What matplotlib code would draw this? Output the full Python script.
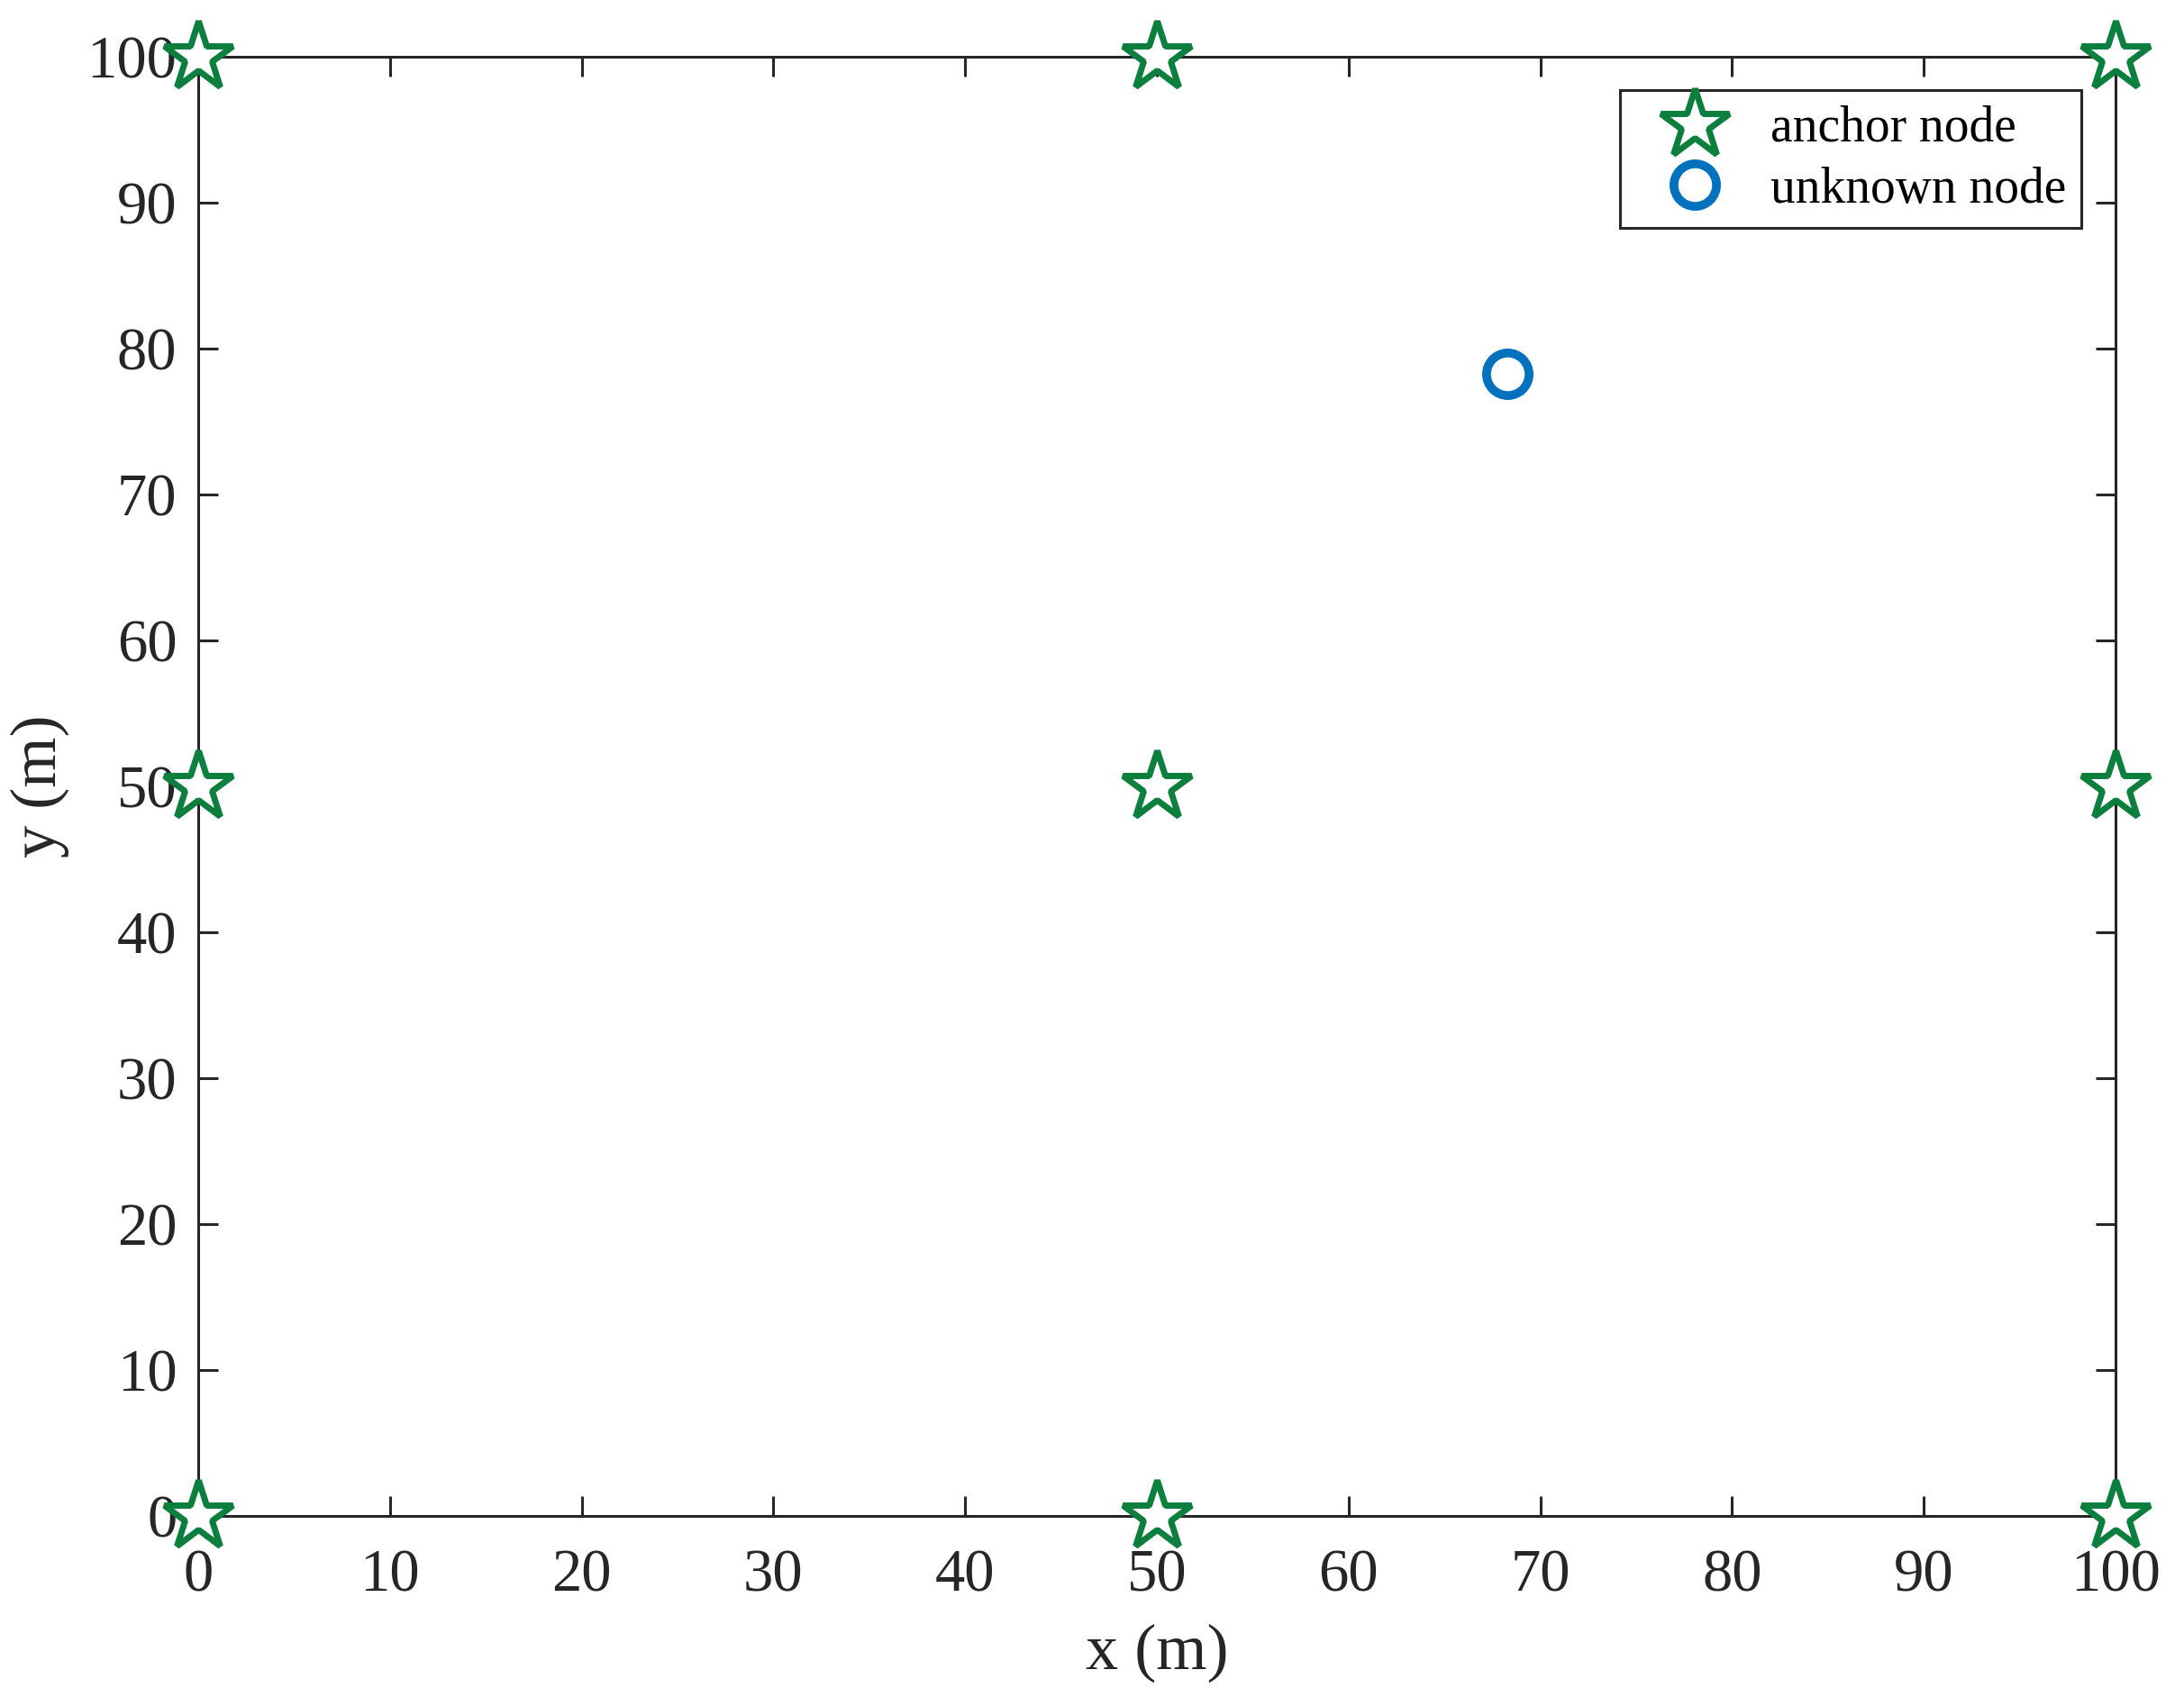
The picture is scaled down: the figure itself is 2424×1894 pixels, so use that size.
import matplotlib
matplotlib.use("Agg")
import matplotlib.pyplot as plt

# anchor nodes on a 3x3 grid (corners, edge midpoints, centre)
anchor_x = [0, 50, 100, 0, 50, 100, 0, 50, 100]
anchor_y = [0, 0, 0, 50, 50, 50, 100, 100, 100]

# estimated unknown node
unknown_x = [68.3]
unknown_y = [78.3]

ticks = list(range(0, 101, 10))

plt.rcParams['font.family'] = ['Liberation Serif', 'DejaVu Serif']
plt.rcParams['axes.linewidth'] = 2.2

fig = plt.figure(figsize=(24.24, 18.94), dpi=100)
ax = fig.add_axes([0.0908, 0.1114, 0.8778, 0.8553])

ax.plot(anchor_x, anchor_y, linestyle='none', marker='*', markersize=58,
        markerfacecolor='white', markeredgecolor='#0c7f3f', markeredgewidth=5,
        clip_on=False, zorder=5, label='anchor node')
ax.plot(unknown_x, unknown_y, linestyle='none', marker='o', markersize=34,
        markerfacecolor='none', markeredgecolor='#0072bd', markeredgewidth=7,
        clip_on=False, zorder=5, label='unknown node')

ax.set_xlim(0, 100)
ax.set_ylim(0, 100)
ax.set_xticks(ticks)
ax.set_yticks(ticks)
ax.tick_params(direction='in', length=16, width=2.2, labelsize=48, colors='#262626',
               top=True, right=True)
ax.tick_params(axis='x', pad=26)
ax.tick_params(axis='y', pad=17)
for s in ax.spines.values():
    s.set_color('#262626')

ax.set_xlabel('x (m)', fontsize=52, color='#262626', labelpad=16)
ax.set_ylabel('y (m)', fontsize=52, color='#262626', labelpad=14)

leg = ax.legend(loc='upper right', fontsize=40, frameon=True, fancybox=False,
                edgecolor='#262626', framealpha=1, borderaxespad=0.0,
                bbox_to_anchor=(0.982, 0.977), handletextpad=0.3,
                handlelength=2.4, labelspacing=0.28, borderpad=0.3,
                markerscale=1.0)
leg.get_frame().set_linewidth(2.2)

fig.savefig('out.png', dpi=100)
